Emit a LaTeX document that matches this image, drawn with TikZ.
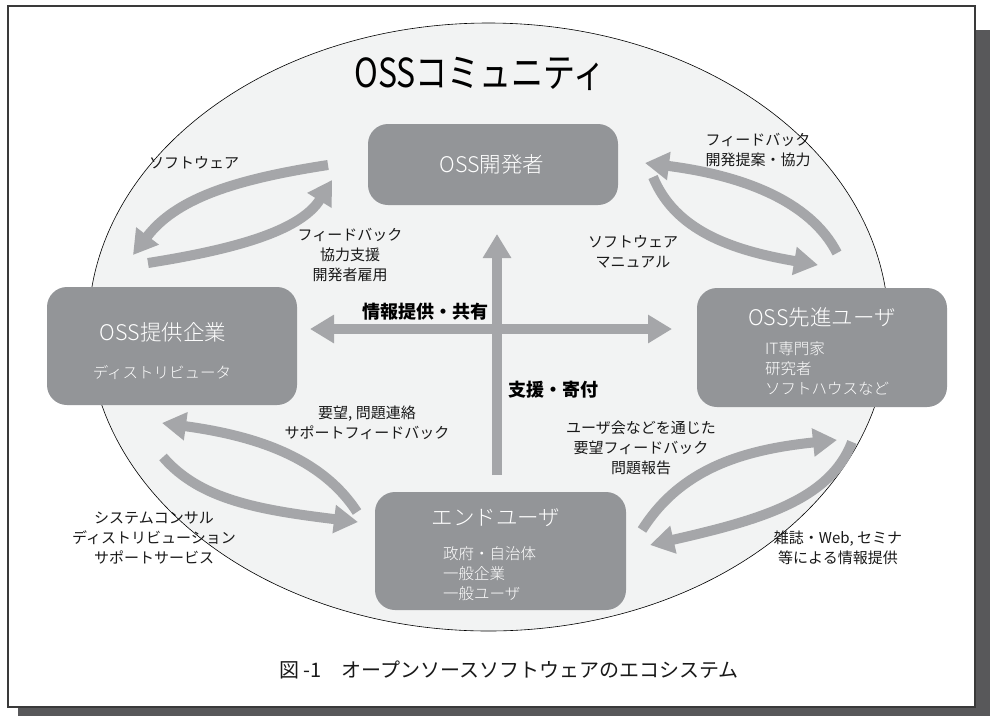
\documentclass[tikz,border=0pt]{standalone}
\usepackage{fontspec}
\newfontfamily\jp{Noto Sans CJK JP}
\newfontfamily\jpl{Noto Sans CJK JP Light}
\usetikzlibrary{arrows.meta}
\definecolor{shadowc}{HTML}{58585A}
\definecolor{framec}{HTML}{3A3A3A}
\definecolor{ellc}{HTML}{F2F3F3}
\definecolor{boxc}{HTML}{939598}
\definecolor{arrc}{HTML}{A5A6A9}
\tikzset{
  boxnode/.style={fill=boxc, draw=none, rounded corners=20pt, inner sep=0pt, minimum width=250pt},
  boxtitle/.style={text=white, font=\jpl\fontsize{21.5}{24}\selectfont, inner sep=0pt},
  boxsub/.style={text=white, font=\jpl\fontsize{15.5}{20}\selectfont, inner sep=0pt, align=left},
  lbl/.style={text=black!90, font=\jp\fontsize{15}{20}\selectfont, inner sep=0pt, align=center},
  blbl/.style={text=black, font=\jp\bfseries\fontsize{18}{22}\selectfont, inner sep=0pt},
  arr/.style={draw=arrc, line width=10pt, -{Triangle[length=24pt,width=27pt]}},
  darr/.style={draw=arrc, line width=10pt, {Triangle[length=24pt,width=27pt]}-{Triangle[length=24pt,width=27pt]}},
}
\begin{document}
\begin{tikzpicture}[x=1pt,y=-1pt]
\useasboundingbox (0,0) rectangle (990,716);
% frame and shadow
\fill[shadowc] (18,30) rectangle (990,716);
\draw[framec, line width=1.2pt, fill=white] (8,6) rectangle (975,707);
% community ellipse
\draw[fill=ellc, line width=0.6pt] (488.5,327) ellipse [x radius=400pt, y radius=304pt];
\node[inner sep=0pt, xscale=0.8, font=\jp\fontsize{40}{44}\selectfont] (title) at (480,73.5) {OSSコミュニティ};
% boxes
\node[boxnode, minimum height=81pt] (dev) at (493,164.5) {};
\node[boxnode, minimum height=118pt] (prov) at (172,346) {};
\node[boxnode, minimum height=119pt] (adv) at (822,347.5) {};
\node[boxnode, minimum width=251pt, minimum height=118pt] (end) at (500.5,551) {};
\node[boxtitle] (devt) at (492,164) {OSS開発者};
\node[boxtitle] (provt) at (163,332) {OSS提供企業};
\node[boxsub] (provs) at (162,373) {ディストリビュータ};
\node[boxtitle] (advt) at (822,317) {OSS先進ユーザ};
\node[boxsub, anchor=west] (advs) at (765,368) {IT専門家\\研究者\\ソフトハウスなど};
\node[boxtitle] (endt) at (496,518) {エンドユーザ};
\node[boxsub, anchor=west] (ends) at (443,574) {政府・自治体\\一般企業\\一般ユーザ};
% arrow end points
\coordinate (h1) at (310,329);
\coordinate (h2) at (672,329);
\coordinate (v1) at (497,475);
\coordinate (v2) at (497,234);
\coordinate (a1s) at (328,165); \coordinate (a1e) at (133,255);
\coordinate (a2s) at (148,263); \coordinate (a2e) at (332,180);
\coordinate (b1s) at (837,253); \coordinate (b1e) at (645,163);
\coordinate (b2s) at (653,177); \coordinate (b2e) at (818,265);
\coordinate (c1s) at (357,512); \coordinate (c1e) at (162,423);
\coordinate (c2s) at (163,457); \coordinate (c2e) at (358,522);
\coordinate (d1s) at (642,530); \coordinate (d1e) at (837,440);
\coordinate (d2s) at (852,442); \coordinate (d2e) at (650,545);
% straight arrows
\draw[darr] (h1) -- (h2);
\draw[arr] (v1) -- (v2);
% curved arrows
\draw[arr] (a1s) .. controls (230,180) and (175,200) .. (a1e);
\draw[arr] (a2s) .. controls (230,250) and (300,232) .. (a2e);
\draw[arr] (b1s) .. controls (810,200) and (740,175) .. (b1e);
\draw[arr] (b2s) .. controls (675,230) and (730,250) .. (b2e);
\draw[arr] (c1s) .. controls (320,455) and (250,435) .. (c1e);
\draw[arr] (c2s) .. controls (200,500) and (260,510) .. (c2e);
\draw[arr] (d1s) .. controls (680,470) and (740,450) .. (d1e);
\draw[arr] (d2s) .. controls (830,500) and (760,520) .. (d2e);
% labels
\node[lbl] (l1) at (194,163) {ソフトウェア};
\node[lbl] (l2) at (350,255) {フィードバック\\協力支援\\開発者雇用};
\node[lbl] (l3) at (758,150) {フィードバック\\開発提案・協力};
\node[lbl] (l4) at (633,251.5) {ソフトウェア\\マニュアル};
\node[blbl] (l5) at (425,312) {情報提供・共有};
\node[blbl] (l6) at (553,390) {支援・寄付};
\node[lbl] (l7) at (367,423) {要望, 問題連絡\\サポートフィードバック};
\node[lbl] (l8) at (154,538) {システムコンサル\\ディストリビューション\\サポートサービス};
\node[lbl] (l9) at (641,448) {ユーザ会などを通じた\\要望フィードバック\\問題報告};
\node[lbl] (l10) at (838,548) {雑誌・Web, セミナ\\等による情報提供};
\node[inner sep=0pt, text=black!90, font=\jp\fontsize{20}{24}\selectfont] (cap) at (509,670) {図 -1　オープンソースソフトウェアのエコシステム};
\end{tikzpicture}
\end{document}
